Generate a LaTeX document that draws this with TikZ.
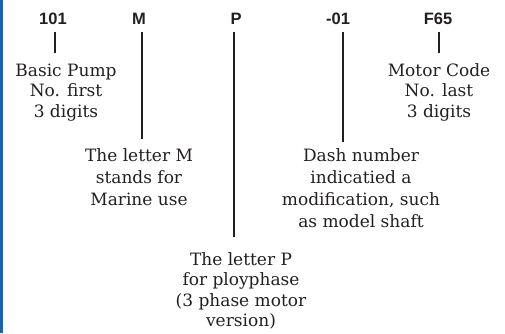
\documentclass[tikz,border=0pt]{standalone}
\usepackage{fontspec}
\setmainfont{DejaVu Serif}
\newfontfamily\hdrfont{Liberation Sans}
\definecolor{ink}{HTML}{231F20}
\definecolor{framebl}{RGB}{20,100,175}
\begin{document}
\begin{tikzpicture}[x=1pt,y=-1pt,
  hdr/.style={font=\hdrfont\bfseries\fontsize{16.5}{18}\selectfont, text=ink, anchor=base, inner xsep=0pt, inner ysep=7.7pt},
  desc/.style={font=\fontsize{17}{20.5}\selectfont, text=ink, align=center, anchor=base, inner sep=0pt},
  descwide/.style={desc, font=\fontsize{17}{22}\selectfont},
  conn/.style={draw=ink, line width=2.9pt}]
\useasboundingbox (0,0) rectangle (505,333);
\fill[framebl] (0,0) rectangle (2.5,333);
% headers
\node[hdr] (h101) at (53,24.3) {101};
\node[hdr] (hM)   at (139,24.3) {M};
\node[hdr] (hP)   at (236,24.3) {P};
\node[hdr] (h01)  at (338,24.3) {-01};
\node[hdr] (hF65) at (438,24.3) {F65};
% descriptions (anchored at the baseline of their last line)
\node[desc] (t101) at (66,117) {Basic Pump\\No. first\\3 digits};
\node[desc] (tF65) at (439,117) {Motor Code\\No. last\\3 digits};
\node[descwide] (tM) at (139,205) {The letter M\\stands for\\Marine use};
\node[descwide] (t01) at (361,227) {Dash number\\indicatied a\\modification, such\\as model shaft};
\node[desc] (tP) at (241,326.7) {The letter P\\for ployphase\\(3 phase motor\\version)};
% line ends
\coordinate (e101) at (0,53);
\coordinate (eM)   at (0,139);
\coordinate (eP)   at (0,237);
\coordinate (e01)  at (0,142);
\coordinate (eF65) at (0,53);
% connectors
\draw[conn] ([xshift=2pt]h101.south) -- ([xshift=2pt]h101.south |- e101);
\draw[conn] ([xshift=3pt]hM.south) -- ([xshift=3pt]hM.south |- eM);
\draw[conn] ([xshift=-2pt]hP.south) -- ([xshift=-2pt]hP.south |- eP);
\draw[conn] ([xshift=5pt]h01.south) -- ([xshift=5pt]h01.south |- e01);
\draw[conn] ([xshift=1pt]hF65.south) -- ([xshift=1pt]hF65.south |- eF65);
\end{tikzpicture}
\end{document}
